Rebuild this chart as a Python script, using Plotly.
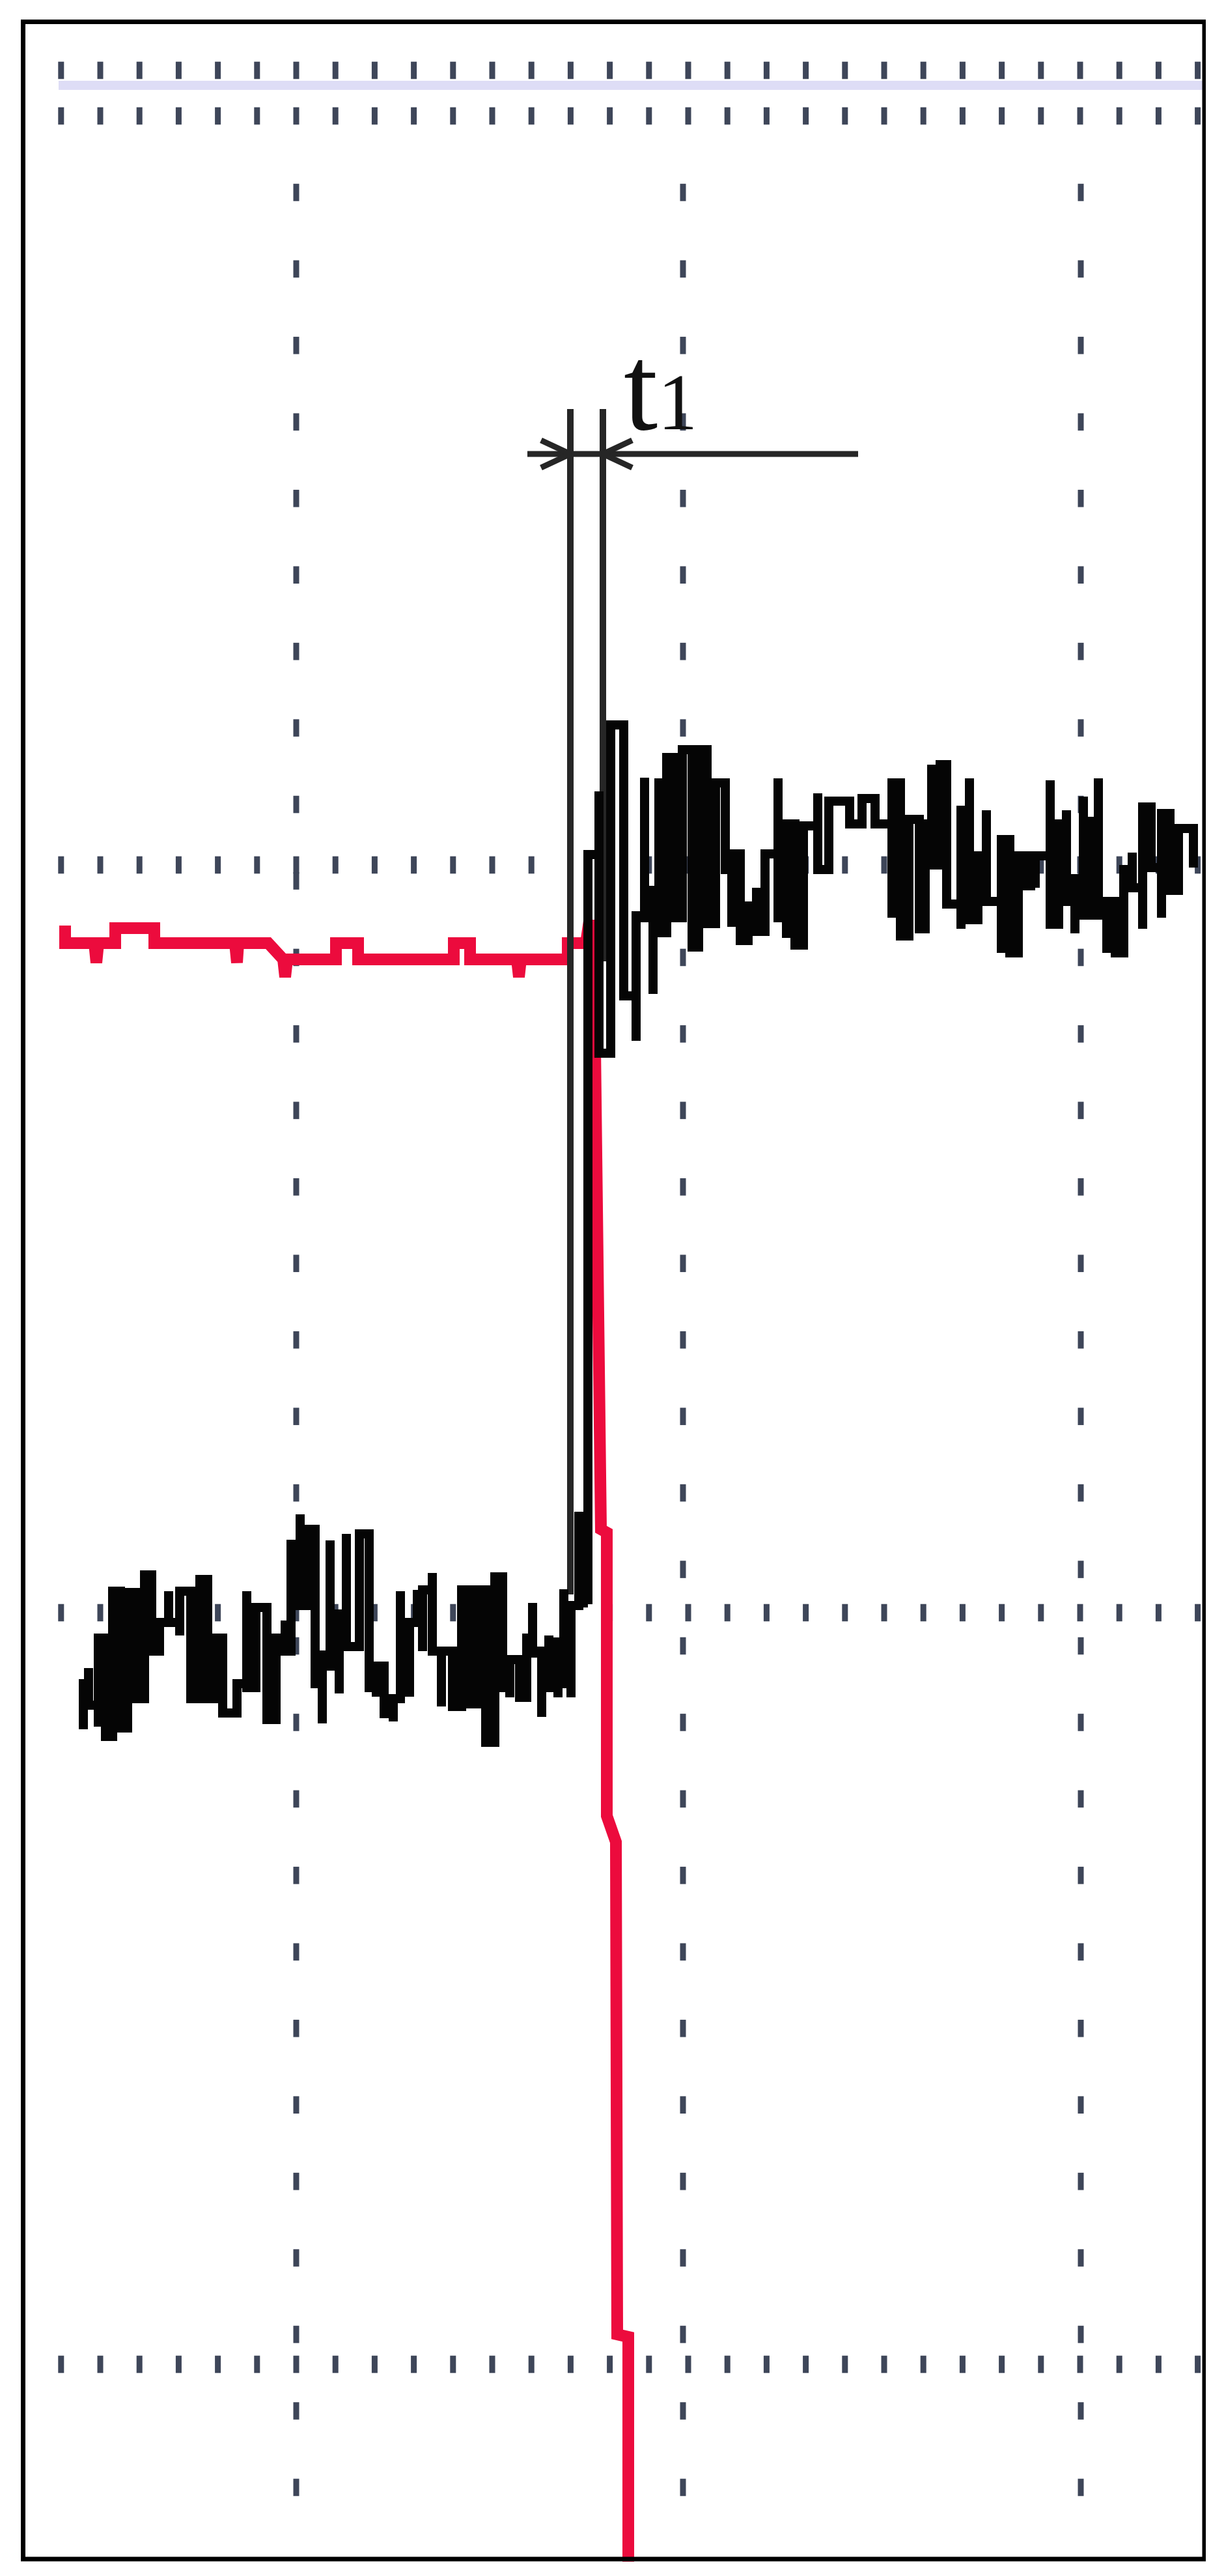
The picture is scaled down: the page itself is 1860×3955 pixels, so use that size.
import plotly.graph_objects as go

# ---------------- data (time in ns, signal in V) ----------------
# black trace: one vertical stroke per sample, with its high and low value
black_t = [-92.1, -91.3, -89.8, -88.7, -87.6, -86.4, -85.3, -83.9, -82.7, -81.6, -80.4, -79.0, -77.3, -75.6, -74.2,
           -73.0, -71.9, -70.7, -68.5, -67.0, -65.6, -63.9, -62.5, -61.1, -60.2, -58.8, -57.6, -56.5, -55.4, -54.2,
           -52.8, -51.7, -49.7, -48.2, -47.1, -45.9, -44.5, -43.4, -42.0, -40.8, -40.0, -38.5, -37.1, -35.4, -34.0,
           -32.6, -31.7, -30.3, -28.9, -27.7, -26.6, -25.1, -24.0, -23.1, -21.7, -20.6, -19.2, -18.3, -17.2, -16.0,
           -14.6, -12.9, -11.1, -9.1, -7.2, -5.9, -4.6, -3.7, -2.5, -1.1, -0.1, 1.4, 2.4, 3.7, 5.0, 6.5, 7.5, 8.8,
           10.0, 11.3, 12.6, 14.6, 15.9, 17.2, 18.5, 20.7, 22.4, 25.6, 27.5, 29.5, 32.1, 33.4, 34.7, 36.3, 37.2,
           38.2, 39.5, 40.5, 42.7, 44.0, 45.3, 46.6, 48.9, 50.2, 51.5, 52.8, 54.1, 56.4, 57.7, 58.9, 60.2, 61.5,
           62.8, 63.8, 65.1, 66.4, 67.7, 69.0, 70.6, 71.9, 73.5, 74.8, 76.1, 78.4]
black_hi = [-1.09, -0.85, -0.39, -1.49, 0.33, -0.82, 0.31, -0.35, 0.58, 0.11, -0.15, 0.33, 0.33, -0.15, 0.51,
            0.11, -0.39, -1.09, -1.09, 0.33, 0.08, -0.15, -0.39, -0.12, 1.05, 1.51, 1.28, 0.78, -0.65, 1.11,
            -0.02, 1.21, 1.21, 0.81, -0.82, -0.82, -1.32, 0.33, -0.15, 0.35, 0.35, 0.61, -0.59, -1.09, 0.35,
            -0.82, 0.35, -0.15, 0.55, 0.11, -0.72, -0.89, -0.39, 0.15, -0.59, -0.35, -0.45, 0.36, 0.11, 1.55,
            11.64, 12.61, 13.63, 13.06, 10.70, 12.82, 11.09, 12.81, 13.13, 12.57, 13.25, 12.60, 13.25, 11.89,
            12.74, 12.36, 11.65, 11.65, 10.85, 11.13, 11.65, 12.81, 12.11, 12.11, 12.08, 12.58, 12.46, 12.46,
            12.50, 12.57, 12.74, 12.18, 12.18, 12.11, 12.11, 13.02, 13.02, 12.81, 12.32, 12.81, 11.62, 12.32,
            11.87, 11.62, 11.62, 11.62, 11.62, 12.78, 12.11, 12.32, 11.27, 12.53, 12.15, 12.81, 10.92, 10.92,
            11.41, 11.67, 12.37, 12.15, 12.27, 12.04, 12.04, 11.76]
black_lo = [-1.79, -1.42, -1.75, -1.90, -1.59, -1.77, -1.25, -1.32, -0.15, -0.59, -0.59, -0.15, -0.35, -1.32, -0.49,
            -1.32, -1.15, -1.54, -1.54, -1.15, -0.65, -1.64, -1.52, -0.59, -0.15, 0.11, 0.15, -1.09, -1.70, -0.82,
            -1.24, -0.52, 0.11, -1.15, -1.29, -1.55, -1.67, -1.22, -1.29, 0.15, -0.59, -0.59, -1.44, -1.44, -1.15,
            -1.40, -1.09, -1.99, -0.92, -1.15, -1.30, -1.30, -1.15, -0.62, -1.60, -1.15, -1.30, -1.09, -1.30, 0.15,
            0.13, 8.59, 11.98, 9.47, 8.78, 10.67, 9.50, 10.44, 12.57, 10.67, 12.57, 10.22, 11.89, 10.58, 10.88,
            11.41, 10.53, 10.32, 10.32, 10.46, 10.46, 10.67, 10.36, 10.25, 11.44, 11.41, 11.90, 12.11, 12.32,
            12.11, 10.67, 10.39, 10.67, 10.50, 10.50, 11.48, 12.08, 10.88, 10.50, 10.64, 10.64, 10.92, 10.13,
            10.13, 10.50, 11.16, 11.13, 10.57, 10.88, 10.92, 10.43, 10.71, 10.71, 10.71, 10.13, 10.13, 10.74,
            11.13, 10.50, 11.44, 10.67, 11.09, 11.09, 11.44]

# red trace (polyline vertices)
red_t = [-94.9, -94.9, -90.4, -90.1, -89.8, -87.2, -87.2, -81.2, -81.2, -68.8, -68.5, -68.3, -63.7, -61.4, -61.1,
         -60.8, -53.3, -53.3, -49.9, -49.9, -35.2, -35.2, -32.7, -32.7, -25.5, -25.2, -24.9, -17.7, -17.7, -14.9,
         -14.5, -13.5, -13.5, -12.6, -11.7, -11.7, -10.3, -10.1, -8.4, -8.4]
red_v = [10.55, 10.28, 10.28, 9.98, 10.28, 10.28, 10.51, 10.51, 10.28, 10.28, 9.98, 10.28, 10.28, 10.03, 9.76,
         10.03, 10.03, 10.28, 10.28, 10.03, 10.03, 10.28, 10.28, 10.03, 10.03, 9.76, 10.03, 10.03, 10.28, 10.28,
         10.55, 10.55, 8.68, 1.28, 1.23, -3.12, -3.52, -11.08, -11.12, -14.57]

# graticule
COL_T = [-59.4, 0.0, 61.1]                 # vertical dotted columns
ROW_V = [23.68, 22.98, 11.48, 0.0, -11.54]  # horizontal dotted rows
ROW_DOT_STEP = 6.02
ROW_DOT_K = list(range(-6, 24))
COL_DOT_STEP = 1.1745
COL_DOT_K = list(range(1, 32))
BAND_V = 23.45
BAND_T = [-95.9, 79.9]

# t1 annotation
T1_LABEL = "t<span style='font-size:122px'>1</span>"
T1_START, T1_END = -17.3, -12.3
T1_TOP = 18.48
T1_LEFT_BOTTOM, T1_RIGHT_BOTTOM = 0.28, 10.0
ARROW_V = 17.79
ARROW_LINE_T = [-23.9, 26.9]
ARROW_LEN, ARROW_HALF = 4.5, 0.21

X_RANGE = [-104.1, 81.9]
Y_RANGE = [-14.87, 24.68]

# ---------------- build ----------------
fig = go.Figure()

DOT = "#3e4659"
# faint lavender band between the two top rows
fig.add_trace(go.Scatter(x=BAND_T, y=[BAND_V, BAND_V], mode="lines",
                         line=dict(color="rgba(200,198,240,0.6)", width=14), hoverinfo="skip"))
# graticule dots
rx, ry = [], []
for v in ROW_V:
    for k in ROW_DOT_K:
        rx.append(COL_T[0] + k * ROW_DOT_STEP)
        ry.append(v)
cx, cy = [], []
for t in COL_T:
    for k in COL_DOT_K:
        cx.append(t)
        cy.append(ROW_V[1] - k * COL_DOT_STEP)
fig.add_trace(go.Scatter(x=rx + cx, y=ry + cy, mode="markers",
                         marker=dict(symbol="line-ns", size=19, line=dict(color=DOT, width=9)),
                         hoverinfo="skip"))

# red trace
fig.add_trace(go.Scatter(x=red_t, y=red_v, mode="lines",
                         line=dict(color="#ec0b3d", width=18), hoverinfo="skip"))

# annotation lines
ANN = "#262626"
fig.add_trace(go.Scatter(x=[T1_START, T1_START], y=[T1_TOP, T1_LEFT_BOTTOM], mode="lines",
                         line=dict(color=ANN, width=10), hoverinfo="skip"))
fig.add_trace(go.Scatter(x=[T1_END, T1_END], y=[T1_TOP, T1_RIGHT_BOTTOM], mode="lines",
                         line=dict(color=ANN, width=10), hoverinfo="skip"))
fig.add_trace(go.Scatter(x=ARROW_LINE_T, y=[ARROW_V, ARROW_V], mode="lines",
                         line=dict(color=ANN, width=9), hoverinfo="skip"))
fig.add_trace(go.Scatter(x=[T1_START - ARROW_LEN, T1_START, T1_START - ARROW_LEN],
                         y=[ARROW_V + ARROW_HALF, ARROW_V, ARROW_V - ARROW_HALF], mode="lines",
                         line=dict(color=ANN, width=9), hoverinfo="skip"))
fig.add_trace(go.Scatter(x=[T1_END + ARROW_LEN, T1_END, T1_END + ARROW_LEN],
                         y=[ARROW_V + ARROW_HALF, ARROW_V, ARROW_V - ARROW_HALF], mode="lines",
                         line=dict(color=ANN, width=9), hoverinfo="skip"))

# black trace: alternate stroke direction, joined with horizontal steps
bx, by = [], []
for i, (t, hi, lo) in enumerate(zip(black_t, black_hi, black_lo)):
    bx += [t, t]
    by += [lo, hi] if i % 2 == 0 else [hi, lo]
fig.add_trace(go.Scatter(x=bx, y=by, mode="lines", line_shape="hv",
                         line=dict(color="#050505", width=14), hoverinfo="skip"))

fig.add_annotation(x=-9.3, y=17.74, xref="x", yref="y", text=T1_LABEL, showarrow=False,
                   xanchor="left", yanchor="bottom",
                   font=dict(family="Liberation Serif", size=188, color="#111111"))

# outer frame
fig.add_shape(type="rect", xref="paper", yref="paper",
              x0=27.5 / 1860, x1=1842 / 1860, y0=1 - 3921 / 3955, y1=1 - 25.5 / 3955,
              line=dict(color="black", width=7), layer="above")

fig.update_layout(width=1860, height=3955, autosize=False,
                  margin=dict(l=0, r=0, t=0, b=0, pad=0),
                  paper_bgcolor="white", plot_bgcolor="white", showlegend=False,
                  xaxis=dict(range=X_RANGE, visible=False, fixedrange=True),
                  yaxis=dict(range=Y_RANGE, visible=False, fixedrange=True))

fig.write_html("out.html")
